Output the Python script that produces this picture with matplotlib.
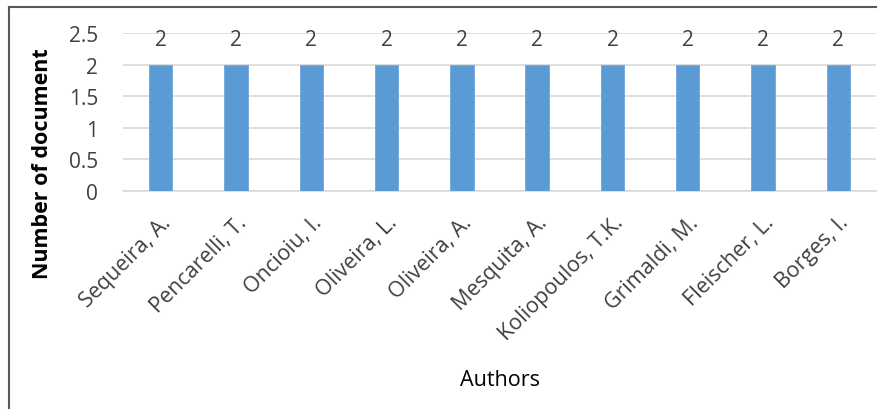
import matplotlib.pyplot as plt
import matplotlib.transforms as mtransforms
from matplotlib.lines import Line2D

# Authors with two documents each
authors = ['Sequeira, A.', 'Pencarelli, T.', 'Oncioiu, I.', 'Oliveira, L.', 'Oliveira, A.',
           'Mesquita, A.', 'Koliopoulos, T.K.', 'Grimaldi, M.', 'Fleischer, L.', 'Borges, I.']
documents = [2, 2, 2, 2, 2, 2, 2, 2, 2, 2]
y_ticks = [0, 0.5, 1, 1.5, 2, 2.5]
y_tick_labels = ['0', '0.5', '1', '1.5', '2', '2.5']

plt.rcParams['font.family'] = ['Open Sans', 'DejaVu Sans']

fig = plt.figure(figsize=(8.77, 4.10), dpi=100)
ax = fig.add_axes([0.1402, 0.5317, 0.8587, 0.3854])

x = range(len(authors))
ax.bar(x, documents, width=0.31, color='#5b9bd5', edgecolor='#6fa8dc', linewidth=0.6, zorder=3)

for xi, v in zip(x, documents):
    ax.text(xi, v + 0.4, f'{v:g}', ha='center', va='center', fontsize=15, color='#404040', zorder=4)

ax.set_xlim(-0.5, len(authors) - 0.5)
ax.set_ylim(0, 2.5)
ax.set_yticks(y_ticks)
ax.set_yticklabels(y_tick_labels, fontsize=15, color='#404040')
ax.set_xticks(list(x))
ax.set_xticklabels(authors, rotation=45, ha='right', va='top', rotation_mode='anchor',
                   fontsize=15.5, color='#404040')
shift = mtransforms.ScaledTranslation(-4 / 100, 0, fig.dpi_scale_trans)
for lbl in ax.get_xticklabels():
    lbl.set_transform(lbl.get_transform() + shift)
ax.tick_params(axis='both', length=0)
ax.tick_params(axis='y', pad=18)
ax.tick_params(axis='x', pad=15)

ax.grid(axis='y', color='#d9d9d9', linewidth=1.2, zorder=0)
for s in ['top', 'right', 'left']:
    ax.spines[s].set_visible(False)
ax.spines['bottom'].set_color('#d9d9d9')
ax.spines['bottom'].set_linewidth(1.2)

fig.text(43 / 877, 0.6, 'Number of document', rotation=90, ha='center', va='center',
         fontsize=15.5, fontweight='bold', color='black')
fig.text(0.57, 0.073, 'Authors', ha='center', va='center', fontsize=15.5, color='black')

# outer chart border
fig.add_artist(Line2D([0.0103, 0.0103], [0, 0.9805], color='#595959', linewidth=1.5))
fig.add_artist(Line2D([0.0103, 1.0], [0.9805, 0.9805], color='#595959', linewidth=1.5))

fig.savefig('out.png', dpi=100)
